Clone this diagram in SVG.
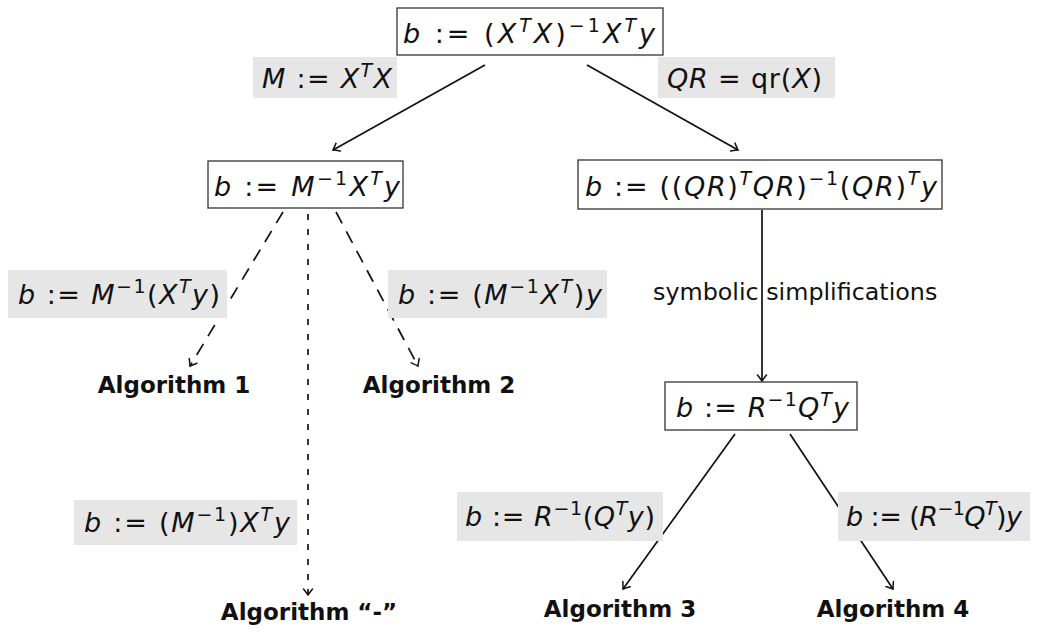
<svg xmlns="http://www.w3.org/2000/svg" width="1063" height="633" viewBox="0 0 1063 633">
  <style>
    .m { font-family: "DejaVu Sans", "Liberation Sans", sans-serif; font-size: 27px; fill: #111; }
    .i { font-style: italic; }
    .sup { font-size: 19px; }
    .t { font-family: "DejaVu Sans", "Liberation Sans", sans-serif; font-size: 23.8px; fill: #111; }
    .alg { font-family: "DejaVu Sans", "Liberation Sans", sans-serif; font-size: 23px; font-weight: bold; fill: #111; text-anchor: middle; }
    .box { fill: #fff; stroke: #333; stroke-width: 1.3; }
    .lbl { fill: #e6e6e6; stroke: none; }
    .edge { fill: none; stroke: #111; stroke-width: 1.7; }
    .dash { stroke-dasharray: 13 9; }
    .dot { stroke-dasharray: 6 9; }
  </style>
  <defs>
    <marker id="to" viewBox="-7 -6 9 12" refX="0" refY="0" markerWidth="9" markerHeight="12" markerUnits="userSpaceOnUse" orient="auto">
      <path d="M -6 -4.5 Q -1.8 -1.2 0 0 Q -1.8 1.2 -6 4.5" fill="none" stroke="#111" stroke-width="1.5" stroke-linecap="round"/>
    </marker>
  </defs>

  <!-- connectors -->
  <g id="connectors">
    <line class="edge" x1="485" y1="65" x2="333" y2="150" marker-end="url(#to)"/>
    <line class="edge" x1="587" y1="65" x2="738" y2="150" marker-end="url(#to)"/>
    <line class="edge dash" x1="283" y1="212" x2="190" y2="366" marker-end="url(#to)"/>
    <line class="edge dash" x1="336" y1="212" x2="418" y2="366" marker-end="url(#to)"/>
    <line class="edge dot" x1="308" y1="214" x2="308" y2="595" marker-end="url(#to)"/>
    <line class="edge" x1="762" y1="210" x2="762" y2="381" marker-end="url(#to)"/>
    <line class="edge" x1="735" y1="434" x2="623" y2="589" marker-end="url(#to)"/>
    <line class="edge" x1="790" y1="434" x2="893" y2="589" marker-end="url(#to)"/>
  </g>

  <!-- edge labels -->
  <g id="label-M">
    <rect class="lbl" x="253" y="57" width="144" height="41"/>
    <text class="m" x="262" y="88" textLength="130"><tspan class="i">M</tspan> := <tspan class="i">X</tspan><tspan class="sup i" dy="-11">T</tspan><tspan class="i" dy="11">X</tspan></text>
  </g>
  <g id="label-QR">
    <rect class="lbl" x="658" y="57" width="177" height="41"/>
    <text class="m" x="667" y="88" textLength="155"><tspan class="i">QR</tspan> = qr(<tspan class="i">X</tspan>)</text>
  </g>
  <g id="label-alg1">
    <rect class="lbl" x="8" y="270" width="219" height="48"/>
    <text class="m" x="18" y="304" textLength="202"><tspan class="i">b</tspan> := <tspan class="i">M</tspan><tspan class="sup" dy="-11">−1</tspan><tspan dy="11">(</tspan><tspan class="i">X</tspan><tspan class="sup i" dy="-11">T</tspan><tspan class="i" dy="11">y</tspan>)</text>
  </g>
  <g id="label-alg2">
    <rect class="lbl" x="388" y="270" width="219" height="48"/>
    <text class="m" x="398" y="304" textLength="204"><tspan class="i">b</tspan> := (<tspan class="i">M</tspan><tspan class="sup" dy="-11">−1</tspan><tspan class="i" dy="11">X</tspan><tspan class="sup i" dy="-11">T</tspan><tspan dy="11">)</tspan><tspan class="i">y</tspan></text>
  </g>
  <g id="label-algdash">
    <rect class="lbl" x="74" y="500" width="223" height="45"/>
    <text class="m" x="84" y="532" textLength="206"><tspan class="i">b</tspan> := (<tspan class="i">M</tspan><tspan class="sup" dy="-11">−1</tspan><tspan dy="11">)</tspan><tspan class="i">X</tspan><tspan class="sup i" dy="-11">T</tspan><tspan class="i" dy="11">y</tspan></text>
  </g>
  <g id="label-simplify">
    <text class="t" x="653" y="300">symbolic simplifications</text>
  </g>
  <g id="label-alg3">
    <rect class="lbl" x="457" y="492" width="206" height="49"/>
    <text class="m" x="465" y="526" textLength="190"><tspan class="i">b</tspan> := <tspan class="i">R</tspan><tspan class="sup" dy="-11">−1</tspan><tspan dy="11">(</tspan><tspan class="i">Q</tspan><tspan class="sup i" dy="-11">T</tspan><tspan class="i" dy="11">y</tspan>)</text>
  </g>
  <g id="label-alg4">
    <rect class="lbl" x="838" y="492" width="192" height="49"/>
    <text class="m" x="846" y="526" textLength="176"><tspan class="i">b</tspan> := (<tspan class="i">R</tspan><tspan class="sup" dy="-11">−1</tspan><tspan class="i" dy="11">Q</tspan><tspan class="sup i" dy="-11">T</tspan><tspan dy="11">)</tspan><tspan class="i">y</tspan></text>
  </g>

  <!-- expression nodes -->
  <g id="node-root">
    <rect class="box" x="397" y="8" width="266" height="47"/>
    <text class="m" x="403" y="43" textLength="252"><tspan class="i">b</tspan> := (<tspan class="i">X</tspan><tspan class="sup i" dy="-11">T</tspan><tspan class="i" dy="11">X</tspan>)<tspan class="sup" dy="-11">−1</tspan><tspan class="i" dy="11">X</tspan><tspan class="sup i" dy="-11">T</tspan><tspan class="i" dy="11">y</tspan></text>
  </g>
  <g id="node-M">
    <rect class="box" x="208" y="161" width="195" height="47"/>
    <text class="m" x="214" y="196" textLength="186"><tspan class="i">b</tspan> := <tspan class="i">M</tspan><tspan class="sup" dy="-11">−1</tspan><tspan class="i" dy="11">X</tspan><tspan class="sup i" dy="-11">T</tspan><tspan class="i" dy="11">y</tspan></text>
  </g>
  <g id="node-QR">
    <rect class="box" x="578" y="160" width="364" height="49"/>
    <text class="m" x="585" y="196" textLength="352"><tspan class="i">b</tspan> := ((<tspan class="i">QR</tspan>)<tspan class="sup i" dy="-11">T</tspan><tspan class="i" dy="11">QR</tspan>)<tspan class="sup" dy="-11">−1</tspan><tspan dy="11">(</tspan><tspan class="i">QR</tspan>)<tspan class="sup i" dy="-11">T</tspan><tspan class="i" dy="11">y</tspan></text>
  </g>
  <g id="node-R">
    <rect class="box" x="665" y="382" width="192" height="48"/>
    <text class="m" x="676" y="417" textLength="173"><tspan class="i">b</tspan> := <tspan class="i">R</tspan><tspan class="sup" dy="-11">−1</tspan><tspan class="i" dy="11">Q</tspan><tspan class="sup i" dy="-11">T</tspan><tspan class="i" dy="11">y</tspan></text>
  </g>

  <!-- algorithm leaves -->
  <g id="alg-1"><text class="alg" x="174" y="393">Algorithm 1</text></g>
  <g id="alg-2"><text class="alg" x="439" y="393">Algorithm 2</text></g>
  <g id="alg-dash"><text class="alg" x="309" y="620">Algorithm “-”</text></g>
  <g id="alg-3"><text class="alg" x="620" y="617">Algorithm 3</text></g>
  <g id="alg-4"><text class="alg" x="893" y="617">Algorithm 4</text></g>
</svg>
